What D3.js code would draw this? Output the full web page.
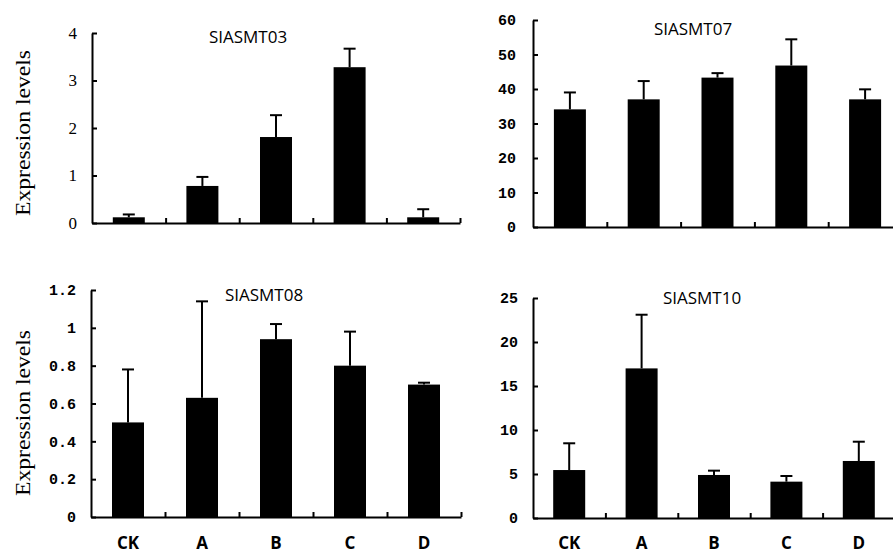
<!DOCTYPE html>
<html>
<head>
<meta charset="utf-8">
<script src="https://cdn.jsdelivr.net/npm/d3@7"></script>
<style>
  html, body { margin: 0; padding: 0; background: #fff; }
  svg { display: block; }
</style>
</head>
<body>
<svg id="chart" width="893" height="553"></svg>
<script>
const categories = ["CK", "A", "B", "C", "D"];

const means03 = [0.12, 0.78, 1.81, 3.28, 0.12];
const errs03  = [0.06, 0.19, 0.46, 0.39, 0.17];
const ticks03 = [0, 1, 2, 3, 4];

const means07 = [34.1, 37.0, 43.3, 46.8, 37.0];
const errs07  = [4.9, 5.3, 1.3, 7.6, 2.9];
const ticks07 = [0, 10, 20, 30, 40, 50, 60];

const means08 = [0.50, 0.63, 0.94, 0.80, 0.70];
const errs08  = [0.28, 0.51, 0.08, 0.18, 0.01];
const ticks08 = [0, 0.2, 0.4, 0.6, 0.8, 1, 1.2];

const means10 = [5.45, 17.0, 4.89, 4.13, 6.48];
const errs10  = [3.04, 6.1, 0.49, 0.64, 2.19];
const ticks10 = [0, 5, 10, 15, 20, 25];

const yLabel = "Expression levels";

const panels = [
  { title: "SIASMT03", means: means03, errs: errs03, ticks: ticks03,
    x0: 92, x1: 460, yTop: 33, yBot: 223, tx: 248, ty: 43,
    tickFont: "'Liberation Serif', 'Times New Roman', serif", tickSize: 17, tickWeight: "normal", pad: 15,
    showCats: false },
  { title: "SIASMT07", means: means07, errs: errs07, ticks: ticks07,
    x0: 533, x1: 902, yTop: 20, yBot: 227, tx: 693, ty: 35,
    tickFont: "'Liberation Mono', 'DejaVu Sans Mono', monospace", tickSize: 15, tickWeight: "bold", pad: 17,
    showCats: false },
  { title: "SIASMT08", means: means08, errs: errs08, ticks: ticks08,
    x0: 91, x1: 461, yTop: 290, yBot: 517, tx: 264, ty: 301,
    tickFont: "'Liberation Mono', 'DejaVu Sans Mono', monospace", tickSize: 15, tickWeight: "bold", pad: 15,
    showCats: true },
  { title: "SIASMT10", means: means10, errs: errs10, ticks: ticks10,
    x0: 533, x1: 895, yTop: 298, yBot: 518, tx: 702, ty: 304,
    tickFont: "'Liberation Mono', 'DejaVu Sans Mono', monospace", tickSize: 15, tickWeight: "bold", pad: 15,
    showCats: true }
];

const svg = d3.select("#chart");

panels.forEach(p => {
  const g = svg.append("g");
  const x = d3.scaleBand().domain(categories).range([p.x0, p.x1]).paddingInner(0).paddingOuter(0);
  const xi = d3.scaleLinear().domain([0, categories.length]).range([p.x0, p.x1]);
  const y = d3.scaleLinear().domain([0, d3.max(p.ticks)]).range([p.yBot, p.yTop]);
  const barW = 32;

  // bars
  g.selectAll("rect.bar").data(p.means).join("rect")
    .attr("class", "bar")
    .attr("x", (d, i) => x(categories[i]) + x.bandwidth() / 2 - barW / 2)
    .attr("y", d => y(d))
    .attr("width", barW)
    .attr("height", d => y(0) - y(d))
    .attr("fill", "#000");

  // error bars (upper)
  const eg = g.selectAll("g.err").data(p.means).join("g").attr("class", "err");
  eg.append("line")
    .attr("x1", (d, i) => x(categories[i]) + x.bandwidth() / 2)
    .attr("x2", (d, i) => x(categories[i]) + x.bandwidth() / 2)
    .attr("y1", d => y(d))
    .attr("y2", (d, i) => y(d + p.errs[i]))
    .attr("stroke", "#000").attr("stroke-width", 2);
  eg.append("line")
    .attr("x1", (d, i) => x(categories[i]) + x.bandwidth() / 2 - 6)
    .attr("x2", (d, i) => x(categories[i]) + x.bandwidth() / 2 + 6)
    .attr("y1", (d, i) => y(d + p.errs[i]))
    .attr("y2", (d, i) => y(d + p.errs[i]))
    .attr("stroke", "#000").attr("stroke-width", 2);

  // x axis (boundary ticks, inward)
  const xAxis = g.append("g")
    .attr("transform", `translate(0,${p.yBot})`)
    .call(d3.axisBottom(xi).tickValues(d3.range(1, categories.length + 1))
      .tickSizeInner(-5).tickSizeOuter(0).tickFormat(""));
  xAxis.select(".domain").attr("stroke-width", 2).attr("stroke", "#000");
  xAxis.selectAll(".tick line").attr("stroke-width", 2).attr("stroke", "#000");

  // y axis (inward ticks)
  const yAxis = g.append("g")
    .attr("transform", `translate(${p.x0},0)`)
    .call(d3.axisLeft(y).tickValues(p.ticks).tickSizeInner(-5).tickSizeOuter(0)
      .tickPadding(p.pad).tickFormat(d => String(+d.toFixed(1))));
  yAxis.select(".domain").attr("stroke-width", 2).attr("stroke", "#000");
  yAxis.selectAll(".tick line").attr("stroke-width", 2).attr("stroke", "#000");
  yAxis.selectAll(".tick text")
    .attr("fill", "#000")
    .style("font-family", p.tickFont)
    .style("font-size", p.tickSize + "px")
    .style("font-weight", p.tickWeight);

  // category labels
  if (p.showCats) {
    const cAxis = g.append("g")
      .attr("transform", `translate(0,${p.yBot})`)
      .call(d3.axisBottom(x).tickSize(0).tickPadding(0));
    cAxis.select(".domain").remove();
    cAxis.selectAll(".tick text")
      .attr("y", 549 - p.yBot)
      .attr("dy", "0")
      .attr("fill", "#000")
      .style("font-family", "'Open Sans', 'Noto Sans', sans-serif")
      .style("font-size", "17px")
      .style("font-weight", "bold");
  }

  // title
  g.append("text")
    .attr("x", p.tx).attr("y", p.ty)
    .attr("text-anchor", "middle")
    .style("font-family", "'Open Sans', 'Liberation Sans', sans-serif")
    .style("font-size", "17px")
    .attr("fill", "#000")
    .text(p.title);
});

// y labels
[133, 413].forEach(cy => {
  svg.append("text")
    .attr("transform", `translate(30,${cy}) rotate(-90)`)
    .attr("text-anchor", "middle")
    .attr("textLength", 166)
    .attr("lengthAdjust", "spacingAndGlyphs")
    .style("font-family", "'Liberation Serif', 'Times New Roman', serif")
    .style("font-size", "22px")
    .attr("fill", "#000")
    .text(yLabel);
});
</script>
</body>
</html>
